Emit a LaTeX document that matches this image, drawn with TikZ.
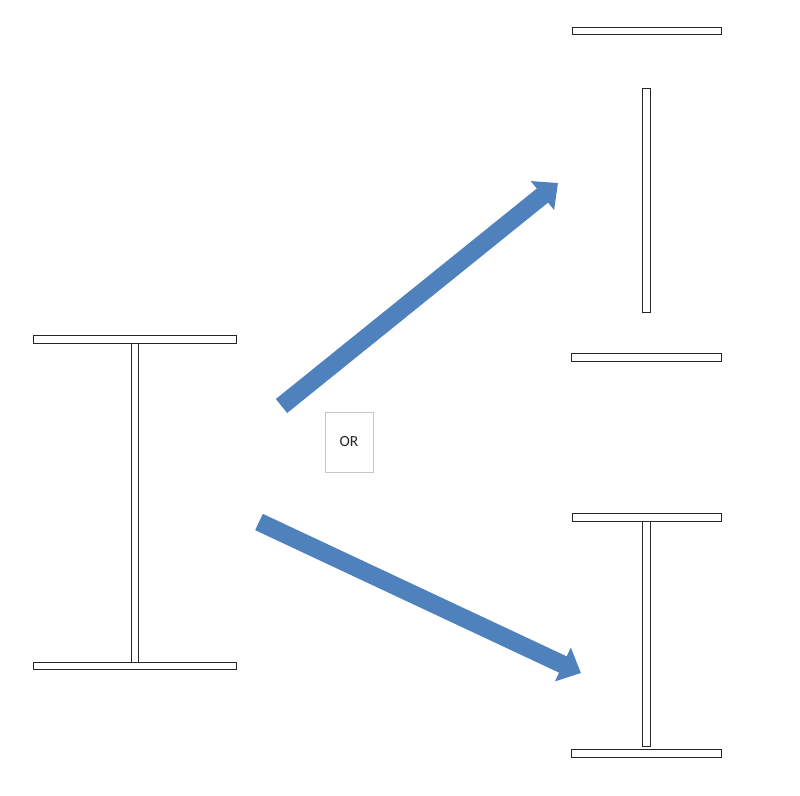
\documentclass[tikz,border=0pt]{standalone}
\usepackage{fontspec}
\setsansfont{Carlito}
\usepackage{xcolor}
\usetikzlibrary{arrows.meta}
\definecolor{ArrowBlue}{HTML}{4F81BD}
\def\lw{1pt}
\tikzset{plate/.style={draw=black!85, fill=white, line width=\lw}}
\tikzset{bigarrow/.style={ArrowBlue, line width=18pt, -{Triangle[length=20pt,width=36pt]}}}
\tikzset{orbox/.style={draw=black!22, fill=white, line width=0.8pt, minimum width=48pt, minimum height=60pt, inner sep=0pt, font=\sffamily\fontsize{15.5}{18}\selectfont, text=black!85}}

\begin{document}
\begin{tikzpicture}[x=1pt, y=-1pt]
      \useasboundingbox (0,0) rectangle (800,795);
      % Left beam
      \draw[plate] (33,335) rectangle (236,343);
      \draw[plate] (131,343) rectangle (138,662);
      \draw[plate] (33,662) rectangle (236,669);

      % Upper right: pieces apart
      \draw[plate] (572,27) rectangle (721,34);
      \draw[plate] (642,88) rectangle (650,312);
      \draw[plate] (571,353) rectangle (721,361);

      % Lower right: pieces joined
      \draw[plate] (572,513) rectangle (721,521);
      \draw[plate] (642,521) rectangle (650,746);
      \draw[plate] (571,749) rectangle (721,757);

      % Arrows
      \coordinate (uptail) at (281.5,406);
      \coordinate (uptip) at (558,183);
      \coordinate (downtail) at (259,522);
      \coordinate (downtip) at (581,673);
      \draw[bigarrow] (uptail) -- (uptip);
      \draw[bigarrow] (downtail) -- (downtip);

      \node[orbox] (or) at (349,442) {OR};
\end{tikzpicture}
\end{document}
